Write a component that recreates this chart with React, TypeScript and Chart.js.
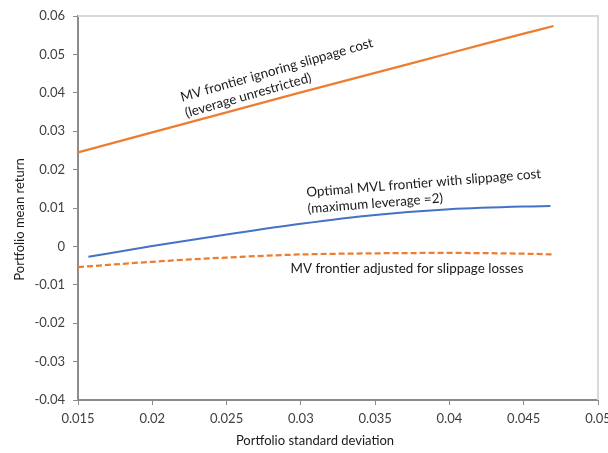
import React, { useEffect, useRef } from "react";
import { Chart, registerables } from "chart.js";

Chart.register(...registerables);

// ---- data ----
const mvSigma = [0.015, 0.02, 0.025, 0.03, 0.035, 0.04, 0.045, 0.047];
const mvReturn = [0.0245, 0.0297, 0.0349, 0.0401, 0.0452, 0.0503, 0.0554, 0.0574];

const mvlSigma = [0.0157, 0.02, 0.025, 0.03, 0.035, 0.04, 0.045, 0.0468];
const mvlReturn = [-0.0027, 0.0001, 0.0031, 0.0059, 0.0082, 0.0097, 0.0104, 0.0105];

const adjSigma = [0.015, 0.02, 0.025, 0.03, 0.035, 0.04, 0.045, 0.047];
const adjReturn = [-0.0054, -0.004, -0.0029, -0.0021, -0.0018, -0.0017, -0.0019, -0.0021];

const xTickValues = [0.015, 0.02, 0.025, 0.03, 0.035, 0.04, 0.045, 0.05];
const yTickValues = [-0.04, -0.03, -0.02, -0.01, 0, 0.01, 0.02, 0.03, 0.04, 0.05, 0.06];

const xTitle = "Portfolio standard deviation";
const yTitle = "Portfolio mean return";

const annotationTexts = [
  ["MV frontier ignoring slippage cost", "(leverage unrestricted)"],
  ["Optimal MVL frontier with slippage cost", "(maximum leverage =2)"],
  ["MV frontier adjusted for slippage losses"],
];
// anchor points (data coords) of the annotation labels
const annotationSigma = [0.022, 0.0304, 0.0293];
const annotationReturn = [0.0377, 0.0129, -0.007];
const annotationAngle = [-16, -4.6, 0];

const FONT = "Lato, 'Open Sans', sans-serif";

const toPairs = (xs: number[], ys: number[]) => xs.map((x, i) => ({ x, y: ys[i] }));

const decorPlugin = {
  id: "decor",
  beforeDatasetsDraw(chart: any) {
    const { ctx, chartArea } = chart;
    ctx.save();
    ctx.strokeStyle = "#d9d9d9";
    ctx.lineWidth = 2;
    ctx.beginPath();
    ctx.moveTo(chartArea.left, chartArea.top);
    ctx.lineTo(chartArea.right, chartArea.top);
    ctx.lineTo(chartArea.right, chartArea.bottom);
    ctx.stroke();
    ctx.restore();
  },
  afterDatasetsDraw(chart: any) {
    const { ctx } = chart;
    const xs = chart.scales.x;
    const ys = chart.scales.y;
    ctx.save();
    ctx.fillStyle = "#1a1a1a";
    ctx.font = `13.4px ${FONT}`;
    ctx.textAlign = "left";
    ctx.textBaseline = "alphabetic";
    annotationTexts.forEach((lines, i) => {
      const px = xs.getPixelForValue(annotationSigma[i]);
      const py = ys.getPixelForValue(annotationReturn[i]);
      ctx.save();
      ctx.translate(px, py);
      ctx.rotate((annotationAngle[i] * Math.PI) / 180);
      lines.forEach((t, j) => ctx.fillText(t, 0, j * 16.5));
      ctx.restore();
    });

    // axis titles (centred on the whole chart box, as in the original)
    ctx.font = `13px ${FONT}`;
    ctx.textAlign = "center";
    ctx.textBaseline = "middle";
    ctx.fillText(xTitle, chart.width / 2 + 11, chart.height - 12);
    ctx.save();
    ctx.translate(20, chart.height / 2 - 7);
    ctx.rotate(-Math.PI / 2);
    ctx.fillText(yTitle, 0, 0);
    ctx.restore();
    ctx.restore();
  },
};

export default function App() {
  const ref = useRef<HTMLCanvasElement | null>(null);

  useEffect(() => {
    if (!ref.current) return;
    const axisColor = "#8c8c8c";
    const tickFont = { family: FONT, size: 13 };
    const chart = new Chart(ref.current, {
      type: "scatter",
      data: {
        datasets: [
          {
            data: toPairs(mvSigma, mvReturn),
            showLine: true,
            borderColor: "#ED7D31",
            borderWidth: 2.25,
            pointRadius: 0,
            tension: 0.3,
          },
          {
            data: toPairs(mvlSigma, mvlReturn),
            showLine: true,
            borderColor: "#4472C4",
            borderWidth: 2,
            pointRadius: 0,
            cubicInterpolationMode: "monotone",
          },
          {
            data: toPairs(adjSigma, adjReturn),
            showLine: true,
            borderColor: "#ED7D31",
            borderWidth: 2.25,
            borderDash: [6, 3],
            pointRadius: 0,
            cubicInterpolationMode: "monotone",
          },
        ],
      } as any,
      options: {
        animation: false,
        responsive: false,
        devicePixelRatio: 1,
        layout: { padding: { top: 16, right: 10, left: 0, bottom: 0 } },
        plugins: { legend: { display: false }, tooltip: { enabled: false } },
        scales: {
          x: {
            type: "linear",
            min: 0.015,
            max: 0.05,
            afterBuildTicks: (s: any) => {
              s.ticks = xTickValues.map((v) => ({ value: v }));
            },
            afterFit: (s: any) => {
              s.height = 53;
              s.paddingRight = 0;
              s.paddingLeft = 0;
            },
            ticks: {
              font: tickFont,
              color: "#404040",
              padding: 6,
              maxRotation: 0,
              autoSkip: false,
              callback: (v: any) => String(Number(Number(v).toFixed(3))),
            },
            grid: { drawOnChartArea: false, drawTicks: true, tickLength: 5, color: axisColor, lineWidth: 1 },
            border: { display: true, color: axisColor, width: 2 },
            title: { display: false },
          },
          y: {
            type: "linear",
            min: -0.04,
            max: 0.06,
            afterBuildTicks: (s: any) => {
              s.ticks = yTickValues.map((v) => ({ value: v }));
            },
            afterFit: (s: any) => {
              s.width = 78;
            },
            ticks: {
              font: tickFont,
              color: "#404040",
              padding: 8,
              autoSkip: false,
              callback: (v: any) => String(Number(Number(v).toFixed(2))),
            },
            grid: { drawOnChartArea: false, drawTicks: true, tickLength: 5, color: axisColor, lineWidth: 1 },
            border: { display: true, color: axisColor, width: 2 },
            title: { display: false },
          },
        },
      } as any,
      plugins: [decorPlugin],
    });
    return () => chart.destroy();
  }, []);

  return (
    <div style={{ position: "fixed", left: 0, top: 0, width: 608, height: 453, background: "#fff" }}>
      <canvas ref={ref} width={608} height={453} style={{ display: "block" }} />
    </div>
  );
}
